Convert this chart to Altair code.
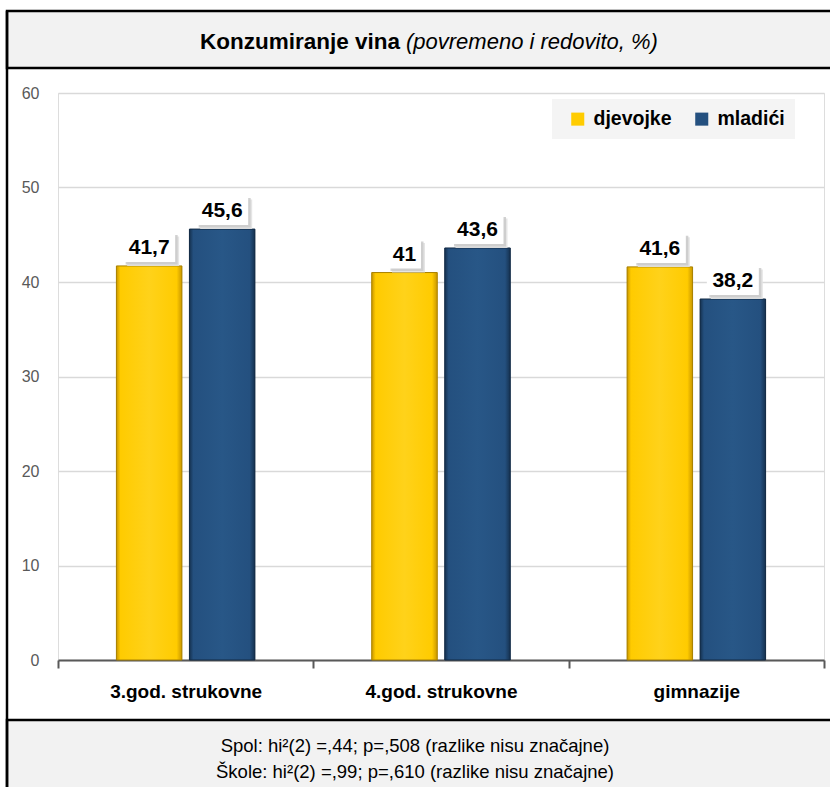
import altair as alt
import pandas as pd

# Wine consumption (occasional and regular, %) by school type and sex
schools = ["3.god. strukovne", "4.god. strukovne", "gimnazije"]
girls = [41.7, 41.0, 41.6]
boys = [45.6, 43.6, 38.2]
series = ["djevojke", "mladići"]
series_colors = ["#FFCC00", "#24507F"]

title_bold = "Konzumiranje vina"
title_italic = "(povremeno i redovito, %)"
footer_lines = [
    "Spol: hi²(2) =,44; p=,508 (razlike nisu značajne)",
    "Škole: hi²(2) =,99; p=,610 (razlike nisu značajne)",
]

rows = []
for s, g, b in zip(schools, girls, boys):
    rows.append({"skola": s, "spol": series[0], "postotak": g})
    rows.append({"skola": s, "spol": series[1], "postotak": b})
df = pd.DataFrame(rows)

FONT = "Liberation Sans"
W, H = 766, 567

x_enc = alt.X("skola:N", sort=schools, title=None,
              scale=alt.Scale(paddingInner=0, paddingOuter=0),
              axis=alt.Axis(labelAngle=0, labelFontSize=19, labelFontWeight="bold",
                            labelColor="#000000", labelFont=FONT, labelPadding=14,
                            domainColor="#595959", domainWidth=2, tickColor="#595959",
                            tickWidth=2, tickSize=8, tickBand="extent", grid=False))
y_scale = alt.Scale(domain=[0, 60], nice=False)
x_off = alt.XOffset("spol:N",
                    scale=alt.Scale(domain=series, paddingInner=0.103, paddingOuter=0.8))

base = alt.Chart(df)

# plain bars carry the colour legend
bars = base.mark_bar().encode(
    x=x_enc,
    xOffset=x_off,
    y=alt.Y("postotak:Q", scale=y_scale, title=None,
            axis=alt.Axis(values=[0, 10, 20, 30, 40, 50, 60], labelFontSize=16,
                          labelColor="#595959", labelFont=FONT, labelPadding=19,
                          domain=False, ticks=False, gridColor="#d9d9d9", gridWidth=1.5)),
    color=alt.Color("spol:N", sort=series,
                    scale=alt.Scale(domain=series, range=series_colors),
                    legend=alt.Legend(title=None, orient="none", legendX=494, legendY=6,
                                      direction="horizontal", symbolType="square",
                                      symbolSize=170, symbolStrokeWidth=0,
                                      labelFontSize=19.5, labelFontWeight="bold",
                                      labelFont=FONT, labelColor="#000000",
                                      fillColor="#f4f4f4", padding=10, columnPadding=14,
                                      symbolOffset=6, labelOffset=6)),
)

def bevel(dark, mid, light):
    return alt.Gradient(
        gradient="linear", x1=0, x2=1, y1=0, y2=0,
        stops=[alt.GradientStop(offset=0, color=dark),
               alt.GradientStop(offset=0.06, color=mid),
               alt.GradientStop(offset=0.5, color=light),
               alt.GradientStop(offset=0.92, color=mid),
               alt.GradientStop(offset=1, color=dark)])

shaded = []
for name, grad, edge in [
    (series[0], bevel("#c99700", "#FFCB00", "#FFD21A"), "#a88000"),
    (series[1], bevel("#15314f", "#24507F", "#285787"), "#122a44"),
]:
    shaded.append(
        base.transform_filter(alt.datum.spol == name)
        .mark_bar(color=grad, stroke=edge, strokeWidth=1)
        .encode(x=alt.X("skola:N", sort=schools), xOffset=x_off,
                y=alt.Y("postotak:Q", scale=y_scale))
    )

# value labels sit in white boxes with a soft shadow (right and below)
SYM = 30.0           # half-size of the symbol unit square, in px
BOX_H = 29.6         # box height, px


def rect_path(half_w, half_h, dx=0.0, dy=0.0):
    a, b = (-half_w + dx) / SYM, (half_w + dx) / SYM
    c, d = (-half_h + dy) / SYM, (half_h + dy) / SYM
    return f"M{a:.4f},{c:.4f}L{b:.4f},{c:.4f}L{b:.4f},{d:.4f}L{a:.4f},{d:.4f}Z"


def box_half_width(n):
    return (9.5 * int(n) + 14) / 2


char_counts = ["2", "4"]

labelled = base.transform_calculate(
    txt="replace(format(datum.postotak, '.10~f'), '.', ',')",
    n="'' + length(replace(format(datum.postotak, '.10~f'), '.', ','))",
    mid="datum.postotak + 0.42 + 1.565",
)


def label_box(shift, colour, opacity):
    shapes = [rect_path(box_half_width(n), BOX_H / 2, shift, shift) for n in char_counts]
    return labelled.mark_point(filled=True, color=colour, opacity=opacity,
                               strokeWidth=0, size=(2 * SYM) ** 2).encode(
        x=alt.X("skola:N", sort=schools), xOffset=x_off,
        y=alt.Y("mid:Q", scale=y_scale),
        shape=alt.Shape("n:N", scale=alt.Scale(domain=char_counts, range=shapes),
                        legend=None),
    )


shadow_far = label_box(4, "#e2e2e2", 0.9)
shadow = label_box(2.5, "#cacaca", 0.85)
box = label_box(0, "#ffffff", 1)

text = labelled.mark_text(fontSize=21, fontWeight="bold", font=FONT, color="#000000",
                          baseline="middle", dy=1).encode(
    x=alt.X("skola:N", sort=schools), xOffset=x_off,
    y=alt.Y("mid:Q", scale=y_scale),
    text="txt:N",
)

one = pd.DataFrame({"k": [0]})

# grey title band and footer, with their borders
title_band = alt.Chart(one).mark_rect(fill="#f2f2f2", stroke="#000000", strokeWidth=2.5).encode(
    x=alt.value(-51), x2=alt.value(W + 20), y=alt.value(-82), y2=alt.value(-25))
footer_band = alt.Chart(one).mark_rect(fill="#f2f2f2", stroke="#000000", strokeWidth=2.5).encode(
    x=alt.value(-51), x2=alt.value(W + 20), y=alt.value(627), y2=alt.value(720))
left_border = alt.Chart(one).mark_rule(color="#000000", strokeWidth=2.5).encode(
    x=alt.value(-51), y=alt.value(-82), y2=alt.value(700))

title_a = alt.Chart(one).mark_text(text=title_bold, fontSize=22.5, fontWeight="bold", font=FONT,
                                   align="right", baseline="alphabetic", color="#000000").encode(
    x=alt.value(342), y=alt.value(-44))
title_b = alt.Chart(one).mark_text(text=title_italic, fontSize=22, fontStyle="italic", font=FONT,
                                   align="left", baseline="alphabetic", color="#000000").encode(
    x=alt.value(348), y=alt.value(-44))

foot = [
    alt.Chart(one).mark_text(text=line, fontSize=18.5, font=FONT, align="center",
                             baseline="middle", color="#000000").encode(
        x=alt.value(357), y=alt.value(yy))
    for line, yy in zip(footer_lines, [653, 679])
]

chart = alt.layer(
    title_band, footer_band, left_border,
    bars, *shaded, shadow_far, shadow, box, text,
    title_a, title_b, *foot,
).resolve_scale(color="independent", shape="independent").properties(
    width=W, height=H,
    autosize=alt.AutoSizeParams(type="none"),
    padding={"left": 58, "top": 93, "right": 6, "bottom": 127},
).configure_view(stroke=None).configure(background="#ffffff")

chart.save("out.html", embed_options={"renderer": "svg", "actions": False})
